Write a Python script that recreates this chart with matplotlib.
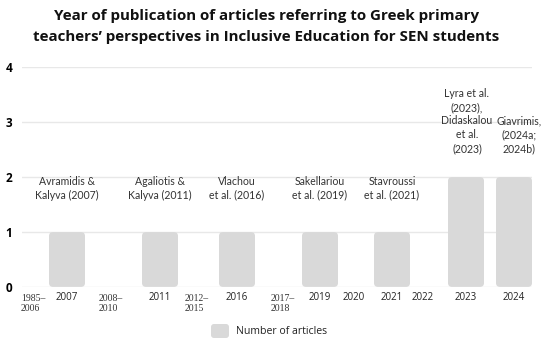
import matplotlib.pyplot as plt
from matplotlib.patches import FancyBboxPatch

# data
categories = ["1985–\n2006", "2007", "2008–\n2010", "2011", "2012–\n2015", "2016",
              "2017–\n2018", "2019", "2020", "2021", "2022", "2023", "2024"]
counts = [0, 1, 0, 1, 0, 1, 0, 1, 0, 1, 0, 2, 2]
notes = ["", "Avramidis &\nKalyva (2007)", "", "Agaliotis &\nKalyva (2011)", "",
         "Vlachou\net al. (2016)", "", "Sakellariou\net al. (2019)", "",
         "Stavroussi\net al. (2021)", "",
         "Lyra et al.\n(2023),\nDidaskalou\net al.\n(2023)",
         "Giavrimis,\n(2024a;\n2024b)"]

# layout (irregular spacing of the original graphic)
x_pos = [10, 45, 88, 138, 174, 215, 260, 298, 332, 370, 401, 444, 492]
note_dx = [0, 0, 0, 0, 0, 0, 0, 0, 0, 0, 0, 1, 5]
bar_w = 36
bar_color = "#d9d9d9"

plt.rcParams['font.family'] = ['Open Sans', 'DejaVu Sans']

fig = plt.figure(figsize=(5.5, 3.46), dpi=100)
ax = fig.add_axes([22 / 550, 59 / 346, 510 / 550, 220 / 346])
ax.set_xlim(0, 510)
ax.set_ylim(0, 4)

for yv in range(5):
    ax.axhline(yv, color="#e8e8e8", lw=1, zorder=0)

px_per_y = 220 / 4
for x, dx, c, note, lab in zip(x_pos, note_dx, counts, notes, categories):
    if c > 0:
        patch = FancyBboxPatch((x - bar_w / 2 + 1, 0.02), bar_w - 2, c - 0.04,
                               boxstyle="round,pad=1,rounding_size=4",
                               mutation_aspect=1 / px_per_y,
                               fc=bar_color, ec="none", zorder=2)
        ax.add_patch(patch)
    if note:
        off = 0.57 if c == 1 else 0.42
        ax.text(x + dx, c + off, note, ha="center", va="bottom", fontsize=7.6,
                family=["Lato", "DejaVu Sans"], color="#333333", linespacing=1.3)
    if "–" in lab:
        ax.text(x - 11, -0.12, lab, ha="left", va="top", fontsize=7,
                family="Liberation Serif", color="#333333", linespacing=1.15)
    else:
        ax.text(x, -0.09, lab, ha="center", va="top", fontsize=7,
                color="#222222")

for s in ax.spines.values():
    s.set_visible(False)
ax.set_xticks([])
ax.set_yticks(range(5))
ax.set_yticklabels([str(v) for v in range(5)], fontsize=8.5, fontweight="bold")
ax.tick_params(axis="y", length=0, pad=7)

fig.text(0.484, 0.975, "Year of publication of articles referring to Greek primary\n"
         "teachers’ perspectives in Inclusive Education for SEN students",
         ha="center", va="top", fontsize=10.9, fontweight="bold",
         linespacing=1.65, color="#111111")

# legend
lax = fig.add_axes([0, 0, 1, 1])
lax.set_xlim(0, 550)
lax.set_ylim(346, 0)
lax.axis("off")
lax.add_patch(FancyBboxPatch((212, 325), 16, 12, boxstyle="round,pad=1,rounding_size=3",
                             fc=bar_color, ec="none"))
lax.text(236, 332, "Number of articles", ha="left", va="center", fontsize=7.6,
         color="#222222")

fig.savefig("out.png", dpi=100)
